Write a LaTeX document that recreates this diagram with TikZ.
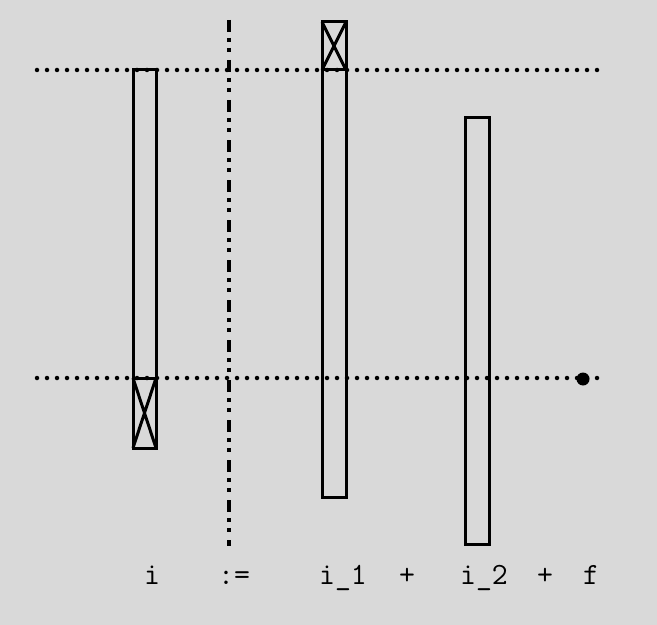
\documentclass[tikz,border=0pt]{standalone}
\tikzset{
  rail/.style={line width=4.5bp, line cap=round, dash pattern=on 0pt off 10bp},
  axis/.style={line width=3.5bp, dash pattern=on 12bp off 6bp on 4bp off 6bp on 4bp off 8bp},
  bar/.style={draw, line width=3bp},
  lbl/.style={anchor=base, inner sep=0pt, font=\ttfamily\fontsize{31}{35}\selectfont}
}
\begin{document}
\begin{tikzpicture}[x=1bp, y=-1bp]
        % Background
        \fill[black!15] (0,0) rectangle (657,625);
        \useasboundingbox (0,0) rectangle (657,625);
        % Rails (top and bottom)
        \coordinate (tl) at (37,70);
        \coordinate (tr) at (600,70);
        \coordinate (bl) at (37,378);
        \coordinate (br) at (603,378);
        \draw[rail] (tl) -- (tr);
        \draw[rail] (bl) -- (br);
        % Separator
        \coordinate (st) at (229,20);
        \coordinate (sb) at (229,546);
        \draw[axis] (st) -- (sb);
        % Bars
        \draw[bar] (133,70) rectangle (156,448);
        \draw[bar] (133,378) -- (156,448) (156,378) -- (133,448);
        \draw[bar] (133,378) -- (156,378);
        \draw[bar] (322,22) rectangle (346,497);
        \draw[bar] (322,70) -- (346,22) (322,22) -- (346,70);
        \draw[bar] (322,70) -- (346,70);
        \draw[bar] (465,118) rectangle (489,544);
        % End point
        \node (f) at (583,379) [circle, fill, inner sep=0pt, minimum size=13bp] {};
        % Labels
        \node (li) at (152,584) [lbl] {i};
        \node (la) at (234,584) [lbl] {:=};
        \node (l1) at (343,584) [lbl] {i\_1};
        \node (p1) at (407,584) [lbl] {+};
        \node (l2) at (484,584) [lbl] {i\_2};
        \node (p2) at (545,584) [lbl] {+};
        \node (lf) at (591,584) [lbl] {f};
      \end{tikzpicture}
\end{document}
